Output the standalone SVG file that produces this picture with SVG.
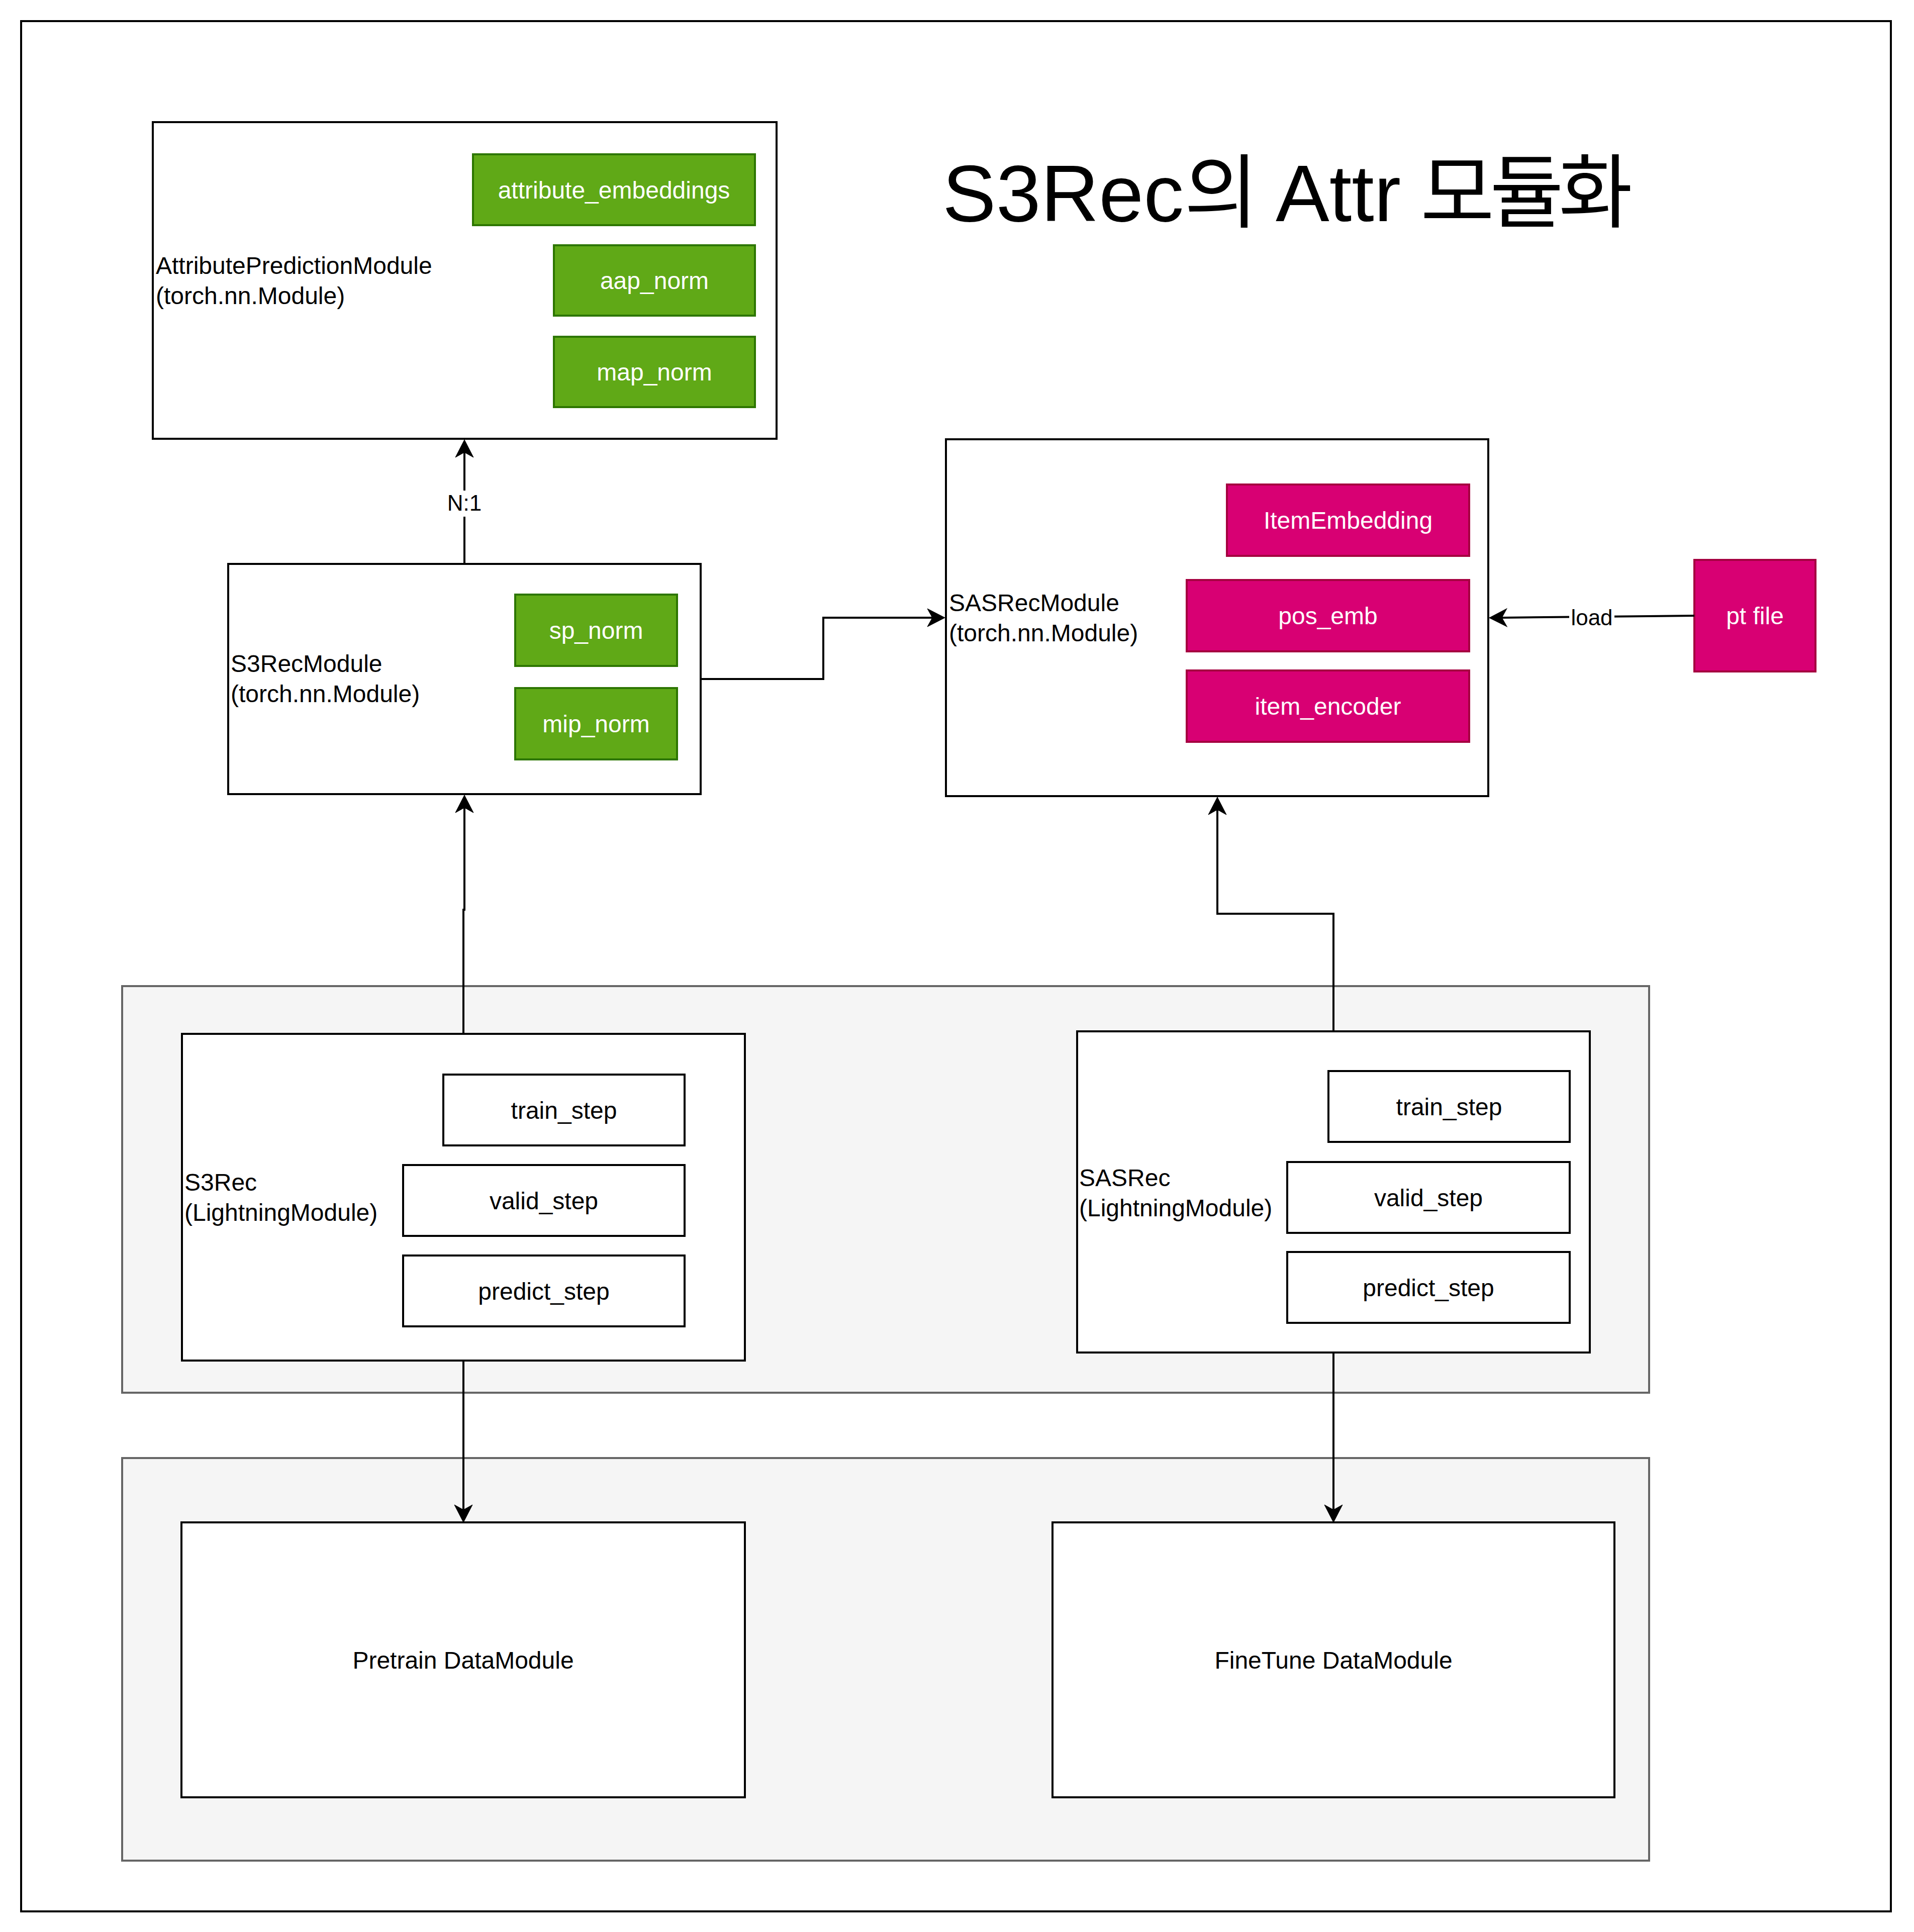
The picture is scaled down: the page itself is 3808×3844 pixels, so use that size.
<svg xmlns="http://www.w3.org/2000/svg" width="3808" height="3844" viewBox="0 0 3808 3844">
<style>
  text { font-family: "Liberation Sans", Arial, "Noto Sans CJK KR", sans-serif; font-size: 48px; fill: #000; }
  .c { text-anchor: middle; }
  .w { fill: #ffffff; }
  .box { fill: #ffffff; stroke: #000; stroke-width: 4; }
  .grp { fill: #f5f5f5; stroke: #666666; stroke-width: 4; }
  .green { fill: #60a917; stroke: #2d7600; stroke-width: 4; }
  .pink { fill: #d80073; stroke: #a50040; stroke-width: 4; }
  .edge { fill: none; stroke: #000; stroke-width: 4; marker-end: url(#arrow); }
  .lbl { font-size: 44px; text-anchor: middle; }
  .lblbg { fill: #ffffff; }
  .title { font-size: 160px; font-family: "Liberation Sans", Arial, "Noto Sans CJK KR", sans-serif; }
</style>
<defs>
  <marker id="arrow" markerUnits="userSpaceOnUse" viewBox="0 -20 40 40" markerWidth="40" markerHeight="40" refX="10" refY="0" orient="auto" overflow="visible">
    <path d="M0,-18 L35,0 L0,18 L10,0 Z" fill="#000" stroke="#000" stroke-width="1"/>
  </marker>
</defs>
<rect width="3808" height="3844" fill="#ffffff"/>
<g id="frame"><rect x="42" y="42" width="3720" height="3761" fill="#ffffff" stroke="#000" stroke-width="4"/></g>

<g id="title">
  <text class="title" y="440"><tspan x="1875">S3Rec</tspan><tspan x="2356">의</tspan><tspan x="2538">Attr</tspan><tspan x="2826">모</tspan><tspan x="2964">듈</tspan><tspan x="3101">화</tspan></text>
</g>

<g id="lightning-group"><rect class="grp" x="243" y="1962" width="3038" height="809"/></g>
<g id="data-group"><rect class="grp" x="243" y="2901" width="3038" height="801"/></g>

<g id="attr-pred">
  <rect class="box" x="304" y="243" width="1241" height="630"/>
  <text x="310" y="545">AttributePredictionModule</text>
  <text x="310" y="605">(torch.nn.Module)</text>
</g>
<g id="attribute-embeddings"><rect class="green" x="941" y="307" width="561" height="141"/><text class="c w" x="1221.5" y="395">attribute_embeddings</text></g>
<g id="aap-norm"><rect class="green" x="1102" y="488" width="400" height="140"/><text class="c w" x="1302" y="575">aap_norm</text></g>
<g id="map-norm"><rect class="green" x="1102" y="670" width="400" height="140"/><text class="c w" x="1302" y="757">map_norm</text></g>

<g id="s3rec-module">
  <rect class="box" x="454" y="1122" width="940" height="458"/>
  <text x="459" y="1337">S3RecModule</text>
  <text x="459" y="1397">(torch.nn.Module)</text>
</g>
<g id="sp-norm"><rect class="green" x="1025" y="1183" width="322" height="142"/><text class="c w" x="1186" y="1271">sp_norm</text></g>
<g id="mip-norm"><rect class="green" x="1025" y="1369" width="322" height="142"/><text class="c w" x="1186" y="1457">mip_norm</text></g>

<g id="sasrec-module">
  <rect class="box" x="1882" y="874" width="1079" height="710"/>
  <text x="1888" y="1216">SASRecModule</text>
  <text x="1888" y="1276">(torch.nn.Module)</text>
</g>
<g id="item-embedding"><rect class="pink" x="2441" y="964" width="482" height="142"/><text class="c w" x="2682" y="1052">ItemEmbedding</text></g>
<g id="pos-emb"><rect class="pink" x="2361" y="1154" width="562" height="142"/><text class="c w" x="2642" y="1242">pos_emb</text></g>
<g id="item-encoder"><rect class="pink" x="2361" y="1334" width="562" height="142"/><text class="c w" x="2642" y="1422">item_encoder</text></g>
<g id="pt-file"><rect class="pink" x="3371" y="1114" width="241" height="222"/><text class="c w" x="3491.5" y="1242">pt file</text></g>

<g id="s3rec-lightning">
  <rect class="box" x="362" y="2057" width="1120" height="650"/>
  <text x="367" y="2369">S3Rec</text>
  <text x="367" y="2429">(LightningModule)</text>
</g>
<g id="s3rec-train"><rect class="box" x="882" y="2138" width="480" height="141"/><text class="c" x="1122" y="2226">train_step</text></g>
<g id="s3rec-valid"><rect class="box" x="802" y="2318" width="560" height="141"/><text class="c" x="1082" y="2406">valid_step</text></g>
<g id="s3rec-predict"><rect class="box" x="802" y="2498" width="560" height="141"/><text class="c" x="1082" y="2586">predict_step</text></g>

<g id="sasrec-lightning">
  <rect class="box" x="2143" y="2052" width="1020" height="639"/>
  <text x="2147" y="2360">SASRec</text>
  <text x="2147" y="2420">(LightningModule)</text>
</g>
<g id="sasrec-train"><rect class="box" x="2643" y="2131" width="480" height="141"/><text class="c" x="2883" y="2219">train_step</text></g>
<g id="sasrec-valid"><rect class="box" x="2561" y="2312" width="562" height="141"/><text class="c" x="2842" y="2400">valid_step</text></g>
<g id="sasrec-predict"><rect class="box" x="2561" y="2491" width="562" height="141"/><text class="c" x="2842" y="2579">predict_step</text></g>

<g id="pretrain-dm"><rect class="box" x="361" y="3029" width="1121" height="547"/><text class="c" x="921.5" y="3320">Pretrain DataModule</text></g>
<g id="finetune-dm"><rect class="box" x="2094" y="3029" width="1118" height="547"/><text class="c" x="2653" y="3320">FineTune DataModule</text></g>

<g id="connectors">
  <path class="edge" d="M924,1122 L924,900"/>
  <rect class="lblbg" x="888" y="976" width="72" height="52"/>
  <text class="lbl" x="924" y="1016">N:1</text>

  <path class="edge" d="M1394,1351 L1638,1351 L1638,1229 L1855,1229"/>
  <path class="edge" d="M922,2057 L922,1810 L924,1810 L924,1607"/>
  <path class="edge" d="M2653,2052 L2653,1818 L2422,1818 L2422,1611"/>

  <path class="edge" d="M3371,1225 L2988,1229"/>
  <rect class="lblbg" x="3122" y="1200" width="90" height="56"/>
  <text class="lbl" x="3167" y="1244">load</text>

  <path class="edge" d="M922,2707 L922,3004"/>
  <path class="edge" d="M2653,2691 L2653,3004"/>
</g>
</svg>
